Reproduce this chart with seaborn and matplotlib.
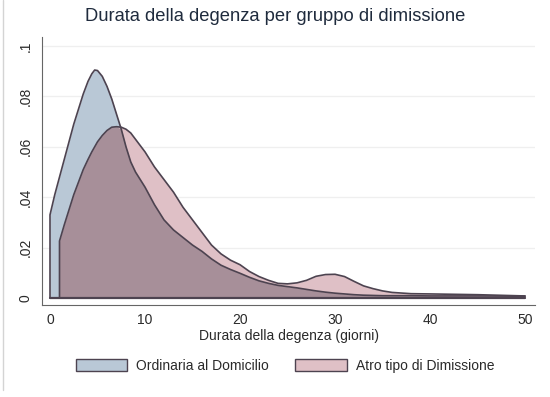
import numpy as np
import pandas as pd
import seaborn as sns
import matplotlib.pyplot as plt
from matplotlib.lines import Line2D

# Densità (griglia comune per le due curve)
giorni = [0, 0, 0.5, 1, 1, 1.5, 2, 2.5, 3, 3.5, 4, 4.4, 4.7, 5, 5.5, 6, 6.5, 7, 7.5, 8,
          8.5, 9, 9.5, 10, 11, 12, 13, 14, 15, 16, 17, 18, 19, 20, 21, 22, 23, 24, 25, 26,
          27, 28, 29, 30, 31, 32, 33, 34, 35, 36, 38, 40, 45, 50]
ordinaria = [0, 0.033, 0.041, 0.048, 0.048, 0.055, 0.062, 0.069, 0.075, 0.081,
             0.086, 0.089, 0.0905, 0.0903, 0.088, 0.084, 0.079, 0.073, 0.067, 0.060,
             0.054, 0.050, 0.047, 0.044, 0.037, 0.031, 0.027, 0.024, 0.021, 0.0185,
             0.0155, 0.013, 0.0113, 0.0098, 0.0082, 0.0068, 0.0058, 0.005, 0.0045, 0.004,
             0.0034, 0.0028, 0.0023, 0.0019, 0.0016, 0.0013, 0.0011, 0.0010, 0.0009, 0.0009,
             0.0009, 0.0008, 0.0008, 0.0007]
altro = [0, 0, 0, 0, 0.0226, 0.029, 0.035, 0.041, 0.046, 0.051,
         0.055, 0.058, 0.060, 0.062, 0.0645, 0.0665, 0.0678, 0.068, 0.0678, 0.067,
         0.0655, 0.063, 0.0605, 0.058, 0.052, 0.047, 0.042, 0.036, 0.031, 0.026,
         0.021, 0.0175, 0.015, 0.0132, 0.0105, 0.0085, 0.007, 0.0058, 0.0056, 0.006,
         0.007, 0.0086, 0.0093, 0.0094, 0.0085, 0.0066, 0.0048, 0.0037, 0.0028, 0.0022,
         0.0017, 0.0016, 0.0013, 0.0008]

labels = ["Ordinaria al Domicilio", "Atro tipo di Dimissione"]
y_ticks = [0, 0.02, 0.04, 0.06, 0.08, 0.1]
y_ticklabels = ["0", ".02", ".04", ".06", ".08", ".1"]
x_ticks = [0, 10, 20, 30, 40, 50]

df = pd.DataFrame({"giorni": giorni, "ordinaria": ordinaria, "altro": altro})

sns.set_theme(style="white")
plt.rcParams["font.family"] = ["Liberation Sans", "DejaVu Sans"]

c_blue = "#b9c8d6"
c_pink = "#dfc0c6"
c_both = "#a78f99"
c_edge = "#4d4350"

fig = plt.figure(figsize=(5.5, 3.97), dpi=100)
ax = fig.add_axes([0.0764, 0.2317, 0.8964, 0.675])

# aree: blu, rosa, e la parte sovrapposta
ax.fill_between(df["giorni"], 0, df["ordinaria"], color=c_blue, lw=0, zorder=2)
ax.fill_between(df["giorni"], 0, df["altro"], color=c_pink, lw=0, zorder=2)
ax.fill_between(df["giorni"], 0, np.minimum(df["ordinaria"], df["altro"]),
                color=c_both, lw=0, zorder=3)
sns.lineplot(data=df, x="giorni", y="ordinaria", sort=False, estimator=None,
             color=c_edge, lw=1.2, ax=ax, zorder=4)
sns.lineplot(data=df[df["giorni"] >= 1], x="giorni", y="altro", sort=False,
             estimator=None, color=c_edge, lw=1.2, ax=ax, zorder=4)
ax.plot([0, 50], [0, 0], color=c_edge, lw=1.6, zorder=5)

ax.set_xlim(-0.84, 51.05)
ax.set_ylim(-0.0028, 0.1036)
for yv in y_ticks[1:]:
    ax.axhline(yv, color="#efefef", lw=0.9, zorder=1)

ax.set_xticks(x_ticks)
ax.set_yticks(y_ticks)
ax.set_yticklabels(y_ticklabels, rotation=90, va="center")
ax.tick_params(axis="both", direction="out", length=4, width=0.8, colors="#555555",
               labelsize=10, labelcolor="#2a2a2a")
ax.tick_params(axis="x", pad=2)
ax.tick_params(axis="y", pad=3)
sns.despine(ax=ax)
for s in ["left", "bottom"]:
    ax.spines[s].set_color("#666666")
    ax.spines[s].set_linewidth(0.8)

ax.set_xlabel("Durata della degenza (giorni)", fontsize=10, color="#2a2a2a", labelpad=1)
ax.set_ylabel("")
fig.suptitle("Durata della degenza per gruppo di dimissione", fontsize=13.2,
             color="#1f2b3d", x=0.5, y=0.98)

handles = [plt.Rectangle((0, 0), 1, 1, facecolor=c_blue, edgecolor=c_edge, lw=1.0),
           plt.Rectangle((0, 0), 1, 1, facecolor=c_pink, edgecolor=c_edge, lw=1.0)]
fig.legend(handles, labels, loc="center", bbox_to_anchor=(0.518, 0.078), ncol=2,
           frameon=False, fontsize=10, handlelength=3.7, handleheight=0.95,
           handletextpad=0.65, columnspacing=1.9, labelcolor="#2a2a2a")

fig.add_artist(Line2D([3 / 550, 3 / 550], [1, 1 - 390 / 397], color="#d4d4d4", lw=1.0))

fig.savefig("out.png", dpi=100)
